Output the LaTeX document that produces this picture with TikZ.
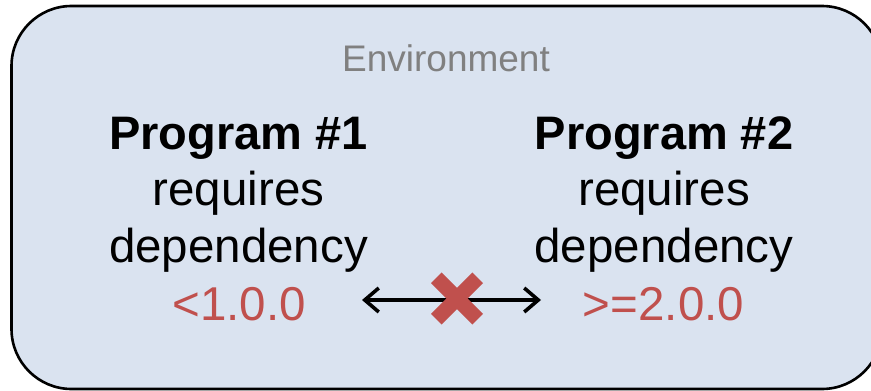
\documentclass[tikz,border=0pt]{standalone}
\usepackage{fontspec}
\setmainfont{Liberation Sans}
\usetikzlibrary{arrows.meta}
\definecolor{envfill}{HTML}{DAE3F0}
\definecolor{conflict}{HTML}{C0504D}
\definecolor{envgray}{HTML}{808080}
\tikzset{
  envbox/.style={draw=black, line width=2.6pt, fill=envfill, rounded corners=60pt},
  title/.style={anchor=base, font=\fontsize{47}{47}\selectfont\bfseries, inner sep=0pt},
  body/.style={anchor=base, font=\fontsize{47.5}{47.5}\selectfont, inner sep=0pt},
  version/.style={body, text=conflict},
  envlabel/.style={anchor=base, font=\fontsize{37}{37}\selectfont, text=envgray, inner sep=0pt},
  link/.style={draw=black, line width=3.6pt, {Straight Barb[length=14pt,width=24pt,line width=3.6pt]}-{Straight Barb[length=14pt,width=24pt,line width=3.6pt]}},
  crossarm/.style={draw=conflict, line width=15pt, line cap=butt},
}
\begin{document}
\begin{tikzpicture}[x=1pt, y=-1pt]
  \useasboundingbox (0,0) rectangle (871,391);
  \clip (0,0) rectangle (871,391);
  % environment container (runs past the right edge)
  \path[envbox] (11.5,6) rectangle (882,389);
  \node[envlabel] (env) at (446,71) {Environment};

  % first program
  \node[title] (p1) at (238.5,149.5) {Program \#1};
  \node[body] (p1req) at (238.5,205) {requires};
  \node[body] (p1dep) at (238.5,262) {dependency};
  \node[version] (p1ver) at (239,320) {<1.0.0};

  % second program
  \node[title] (p2) at (664,149.5) {Program \#2};
  \node[body] (p2req) at (664,205) {requires};
  \node[body] (p2dep) at (664,262) {dependency};
  \node[version] (p2ver) at (663.5,320) {>=2.0.0};

  % incompatible link between the two versions
  \coordinate (linkL) at (362,300);
  \coordinate (linkR) at (541,300);
  \draw[link] (linkL) -- (linkR);

  \coordinate (x) at (457,298.5);
  \draw[crossarm] ([shift={(-20.7,-20.7)}]x) -- ([shift={(20.7,20.7)}]x);
  \draw[crossarm] ([shift={(-20.7,20.7)}]x) -- ([shift={(20.7,-20.7)}]x);
\end{tikzpicture}
\end{document}
